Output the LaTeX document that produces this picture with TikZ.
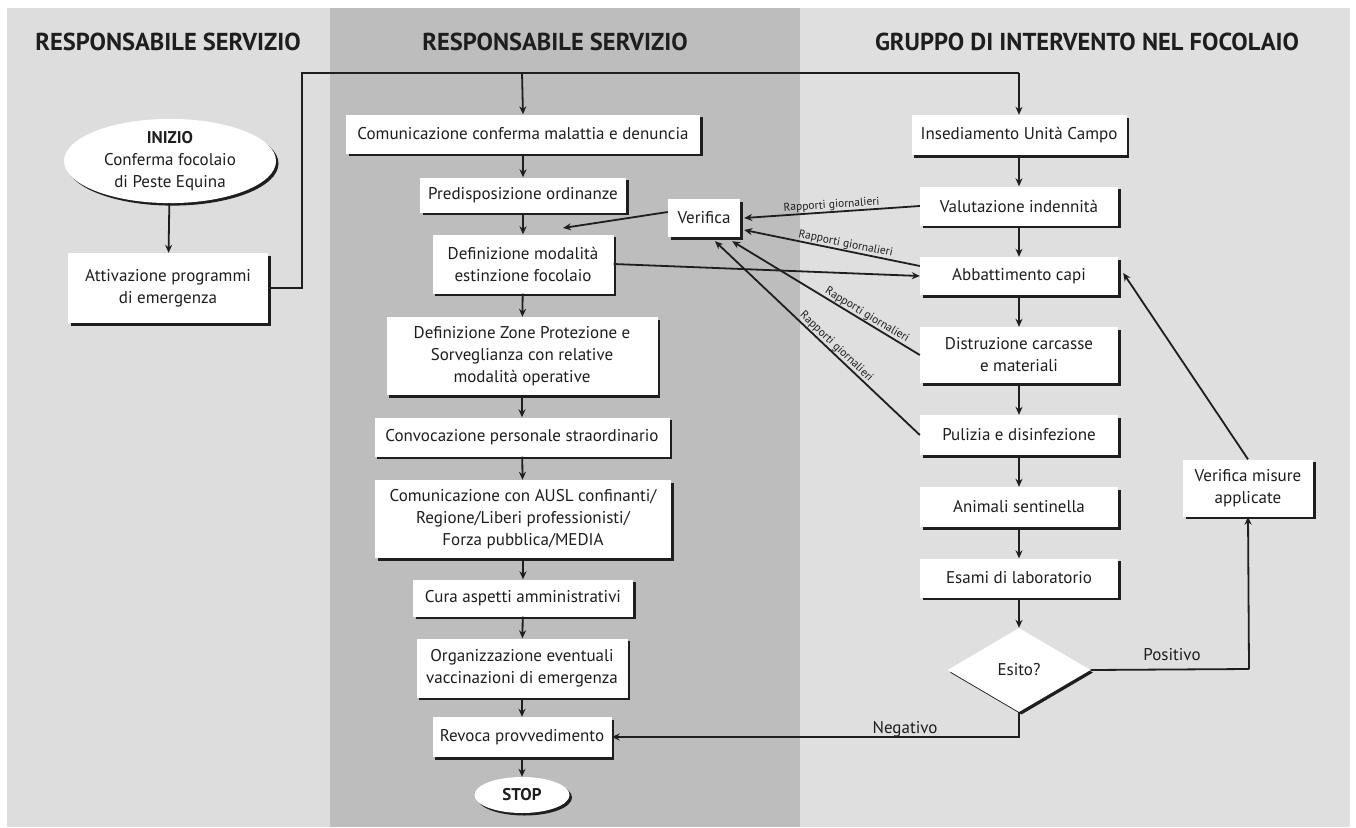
\documentclass[tikz,border=0pt]{standalone}
\usepackage{fontspec}
\setmainfont{PT Sans}
\usetikzlibrary{shapes.geometric,shadows,calc,arrows.meta}
\definecolor{panelL}{HTML}{DDDDDD}
\definecolor{panelM}{HTML}{BDBDBD}
\definecolor{panelR}{HTML}{DFDFDF}
\definecolor{ink}{HTML}{1E1E1E}
\begin{document}
\begin{tikzpicture}[x=1pt,y=-1pt,
  shad/.style={copy shadow={shadow xshift=2.5pt, shadow yshift=-2.5pt, fill=ink, draw=none}},
  box/.style={shad, fill=white, draw=none, align=center, inner sep=0pt,
    font=\fontsize{17}{22}\selectfont, text=ink},
  oval/.style={box, ellipse},
  decision/.style={box, diamond},
  hdr/.style={font=\fontsize{24.5}{28}\selectfont\bfseries, text=ink},
  arr/.style={-{Stealth[length=8pt,width=7pt]}, line width=1.8pt, draw=ink},
  rarr/.style={{Stealth[length=8pt,width=7pt]}-, line width=1.8pt, draw=ink},
  ln/.style={line width=1.8pt, draw=ink},
  lbl/.style={font=\fontsize{11.5}{12}\selectfont, sloped, above, inner sep=0.5pt, text=ink},
  plain/.style={font=\fontsize{17}{19}\selectfont, text=ink}
]
\useasboundingbox (0,0) rectangle (1356,827);
\fill[white] (0,0) rectangle (1356,827);
\fill[panelL] (7,8) rectangle (330,827);
\fill[panelM] (330,8) rectangle (800,827);
\fill[panelR] (800,8) rectangle (1350,827);

% headers
\node[hdr] (h1) at (168,42) {RESPONSABILE SERVIZIO};
\node[hdr] (h2) at (555,42) {RESPONSABILE SERVIZIO};
\node[hdr] (h3) at (1087,42) {GRUPPO DI INTERVENTO NEL FOCOLAIO};

% left column
\node[oval, minimum width=212pt, minimum height=78pt] (start) at (170,161)
  {\textbf{INIZIO}\\Conferma focolaio\\di Peste Equina};
\node[box, minimum width=200pt, minimum height=70pt] (att) at (168,288)
  {Attivazione programmi\\di emergenza};

% middle column
\node[box, minimum width=354pt, minimum height=39pt] (c1) at (523,134) {Comunicazione conferma malattia e denuncia};
\node[box, minimum width=206pt, minimum height=35pt] (c2) at (523,195) {Predisposizione ordinanze};
\node[box, minimum width=181pt, minimum height=59pt] (c3) at (523,264) {Definizione modalità\\estinzione focolaio};
\node[box, minimum width=271pt, minimum height=78pt] (c4) at (522,356) {Definizione Zone Protezione e\\Sorveglianza con relative\\modalità operative};
\node[box, minimum width=295pt, minimum height=39pt] (c5) at (522,437) {Convocazione personale straordinario};
\node[box, minimum width=296pt, minimum height=78pt] (c6) at (523,519) {Comunicazione con AUSL confinanti/\\Regione/Liberi professionisti/\\Forza pubblica/MEDIA};
\node[box, minimum width=220pt, minimum height=37pt] (c7) at (523,598) {Cura aspetti amministrativi};
\node[box, minimum width=211pt, minimum height=59pt] (c8) at (522,668) {Organizzazione eventuali\\vaccinazioni di emergenza};
\node[box, minimum width=179pt, minimum height=40pt] (c9) at (522,737) {Revoca provvedimento};
\node[oval, minimum width=95pt, minimum height=36pt, font=\fontsize{17}{19}\selectfont\bfseries] (stop) at (522,795) {STOP};
\node[box, minimum width=72pt, minimum height=38pt] (ver) at (704,218) {Verifica};

% right column
\node[box, minimum width=215pt, minimum height=40pt] (r1) at (1019,135) {Insediamento Unità Campo};
\node[box, minimum width=198pt, minimum height=39pt] (r2) at (1019,206) {Valutazione indennità};
\node[box, minimum width=198pt, minimum height=38pt] (r3) at (1019,276) {Abbattimento capi};
\node[box, minimum width=198pt, minimum height=56pt] (r4) at (1019,355) {Distruzione carcasse\\e materiali};
\node[box, minimum width=198pt, minimum height=40pt] (r5) at (1019,435) {Pulizia e disinfezione};
\node[box, minimum width=198pt, minimum height=40pt] (r6) at (1019,507) {Animali sentinella};
\node[box, minimum width=198pt, minimum height=39pt] (r7) at (1019,578) {Esami di laboratorio};
\node[decision, minimum width=143pt, minimum height=84pt, aspect=1.7] (esito) at (1019,670) {Esito?};
\node[box, minimum width=130pt, minimum height=57pt] (vm) at (1248,488) {Verifica misure\\applicate};

% helper coordinates
\coordinate (k1) at (302,288);
\coordinate (k2) at (302,73);
\coordinate (k3) at (1019,73);
\coordinate (k4) at (522,73);
\coordinate (vtip) at (563,228);
\coordinate (pk) at (1249,669);

% connectors
\draw[arr] (start) -- (att);
\draw[ln] (att.east) -- (k1) -- (k2) -- (k3);
\draw[arr] (k3) -- (r1.north);
\draw[arr] (k4) -- (c1.north);
\draw[arr] (c1) -- (c2);
\draw[arr] (c2) -- (c3);
\draw[arr] (c3) -- (c4);
\draw[arr] (c4) -- (c5);
\draw[arr] (c5) -- (c6);
\draw[arr] (c6) -- (c7);
\draw[arr] (c7) -- (c8);
\draw[arr] (c8) -- (c9);
\draw[arr] (c9) -- (stop);
\draw[arr] (r1) -- (r2);
\draw[arr] (r2) -- (r3);
\draw[arr] (r3) -- (r4);
\draw[arr] (r4) -- (r5);
\draw[arr] (r5) -- (r6);
\draw[arr] (r6) -- (r7);
\draw[arr] (r7) -- (esito);

\draw[arr] ($(ver.west)+(0,-6)$) -- (vtip);
\draw[arr] (c3.east) -- (r3.west);
\draw[rarr] ($(ver.east)+(4,0)$) -- node[lbl, pos=0.5] {Rapporti giornalieri} (r2.west);
\draw[rarr] ($(ver.east)+(4,12)$) -- node[lbl, pos=0.57] {Rapporti giornalieri} ($(r3.west)+(0,-10)$);
\draw[rarr] ($(ver.south east)+(-8,4)$) -- node[lbl, pos=0.7] {Rapporti giornalieri} (r4.west);
\draw[rarr] ($(ver.south)+(11,4)$) -- node[lbl, pos=0.57] {Rapporti giornalieri} (r5.west);

\draw[arr] (vm.north) -- ($(r3.east)+(5,-3)$);
\draw[ln] (esito.east) -- (pk);
\draw[arr] (pk) -- (vm.south);
\draw[arr] (esito.south) |- (c9.east);
\node[plain] (pos) at (1172,655) {Positivo};
\node[plain] (neg) at (905,729) {Negativo};
\end{tikzpicture}
\end{document}
